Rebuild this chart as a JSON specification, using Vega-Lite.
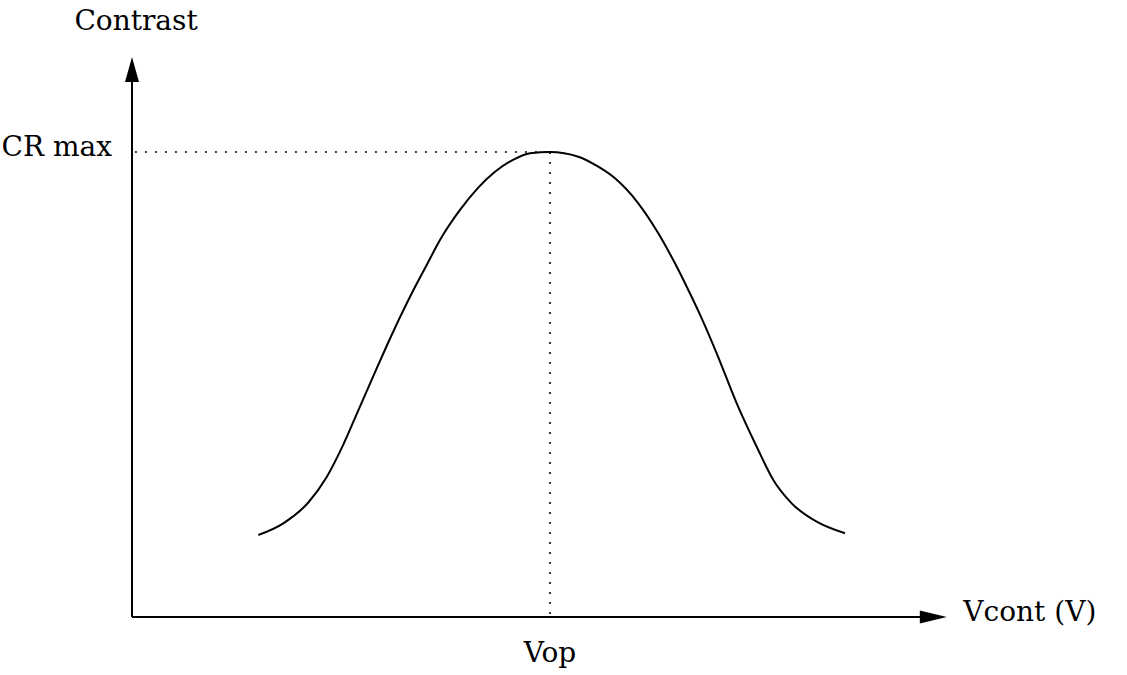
{
  "$schema": "https://vega.github.io/schema/vega-lite/v6.json",
  "width": 1127,
  "height": 675,
  "autosize": {"type": "none"},
  "padding": 0,
  "background": "white",
  "config": {"view": {"stroke": null}},
  "datasets": {
    "curve": [
      {"x": 3.022, "y": 0.1763}, {"x": 3.62, "y": 0.2014}, {"x": 4.218, "y": 0.2463},
      {"x": 4.658, "y": 0.3013}, {"x": 5.055, "y": 0.3708}, {"x": 5.414, "y": 0.4444},
      {"x": 5.854, "y": 0.5346}, {"x": 6.251, "y": 0.614}, {"x": 6.73, "y": 0.7026},
      {"x": 7.05, "y": 0.757}, {"x": 7.368, "y": 0.8108}, {"x": 7.847, "y": 0.8755},
      {"x": 8.278, "y": 0.9229}, {"x": 8.684, "y": 0.9574}, {"x": 9.115, "y": 0.9833},
      {"x": 9.522, "y": 0.9975}, {"x": 10.0, "y": 1.0}, {"x": 10.677, "y": 0.9899},
      {"x": 11.155, "y": 0.9684}, {"x": 11.555, "y": 0.9434}, {"x": 12.112, "y": 0.8897},
      {"x": 12.591, "y": 0.8252}, {"x": 12.99, "y": 0.7606}, {"x": 13.309, "y": 0.7032},
      {"x": 13.629, "y": 0.6424}, {"x": 13.988, "y": 0.5671}, {"x": 14.467, "y": 0.4596},
      {"x": 14.945, "y": 0.3662}, {"x": 15.342, "y": 0.2946}, {"x": 15.782, "y": 0.2445},
      {"x": 16.38, "y": 0.2049}, {"x": 17.057, "y": 0.18}
    ],
    "axes": [
      {"x": 0, "y": 0, "x2": 18.9, "y2": 0},
      {"x": 0, "y": 0, "x2": 0, "y2": 1.155}
    ],
    "guides": [
      {"x": 0.07, "y": 1.0, "x2": 10.0, "y2": 1.0},
      {"x": 10.0, "y": 1.0, "x2": 10.0, "y2": 0}
    ]
  },
  "encoding": {
    "x": {"field": "x", "type": "quantitative", "axis": null,
          "scale": {"domain": [-3.158, 23.804], "nice": false, "zero": false}},
    "y": {"field": "y", "type": "quantitative", "axis": null,
          "scale": {"domain": [-0.1247, 1.3269], "nice": false, "zero": false}}
  },
  "layer": [
    {
      "data": {"name": "guides"},
      "mark": {"type": "rule", "color": "black", "strokeWidth": 1.6, "strokeDash": [2, 8]},
      "encoding": {"x2": {"field": "x2"}, "y2": {"field": "y2"}}
    },
    {
      "data": {"name": "axes"},
      "mark": {"type": "rule", "color": "black", "strokeWidth": 2},
      "encoding": {"x2": {"field": "x2"}, "y2": {"field": "y2"}}
    },
    {
      "data": {"values": [{"x": 19.17, "y": 0}]},
      "mark": {"type": "point", "filled": true, "color": "black", "opacity": 1, "size": 729,
               "shape": "M1,0L-1,-0.48L-1,0.48Z"}
    },
    {
      "data": {"values": [{"x": 0, "y": 1.1774}]},
      "mark": {"type": "point", "filled": true, "color": "black", "opacity": 1, "size": 625,
               "shape": "M0,-1L-0.56,1L0.56,1Z"}
    },
    {
      "data": {"name": "curve"},
      "mark": {"type": "line", "color": "black", "strokeWidth": 2, "interpolate": "monotone"}
    },
    {
      "data": {"values": [{"x": 0, "y": 1.204, "label": "Contrast"}]},
      "mark": {"type": "text", "font": "DejaVu Serif", "fontSize": 28, "color": "black",
               "align": "center", "baseline": "alphabetic", "dx": 4, "dy": -27},
      "encoding": {"text": {"field": "label"}}
    },
    {
      "data": {"values": [{"x": 0, "y": 1.0, "label": "CR max"}]},
      "mark": {"type": "text", "font": "DejaVu Serif", "fontSize": 28, "color": "black",
               "align": "right", "baseline": "alphabetic", "dx": -20, "dy": 4},
      "encoding": {"text": {"field": "label"}}
    },
    {
      "data": {"values": [{"x": 19.17, "y": 0, "label": "Vcont (V)"}]},
      "mark": {"type": "text", "font": "DejaVu Serif", "fontSize": 28, "color": "black",
               "align": "left", "baseline": "alphabetic", "dx": 30, "dy": 4},
      "encoding": {"text": {"field": "label"}}
    },
    {
      "data": {"values": [{"x": 10.0, "y": 0, "label": "Vop"}]},
      "mark": {"type": "text", "font": "DejaVu Serif", "fontSize": 28, "color": "black",
               "align": "center", "baseline": "alphabetic", "dx": 0, "dy": 45},
      "encoding": {"text": {"field": "label"}}
    }
  ]
}
